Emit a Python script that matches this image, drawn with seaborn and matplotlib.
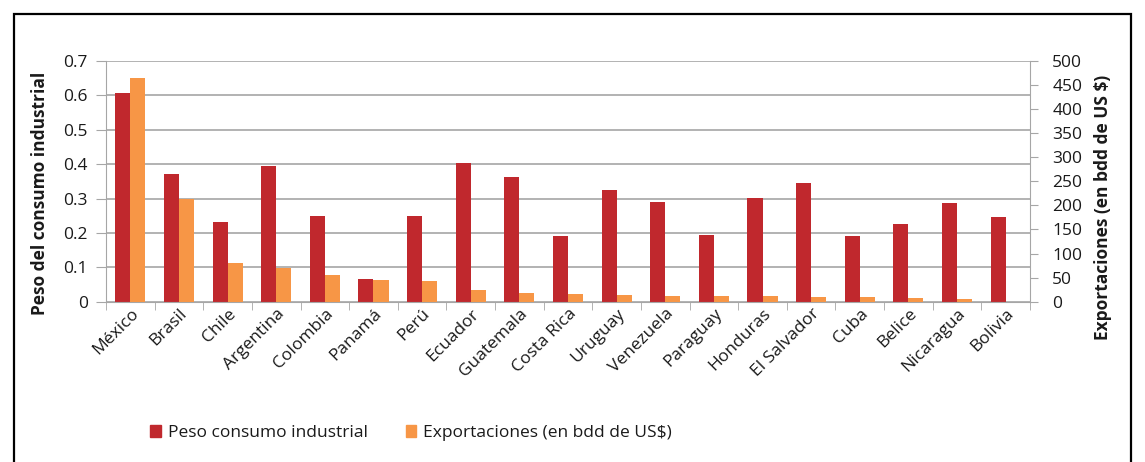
import numpy as np
import pandas as pd
import matplotlib
matplotlib.use("Agg")
import matplotlib.pyplot as plt
from matplotlib.patches import Rectangle
from matplotlib.ticker import MultipleLocator, FixedLocator
import seaborn as sns

countries = ["México", "Brasil", "Chile", "Argentina", "Colombia", "Panamá", "Perú",
             "Ecuador", "Guatemala", "Costa Rica", "Uruguay", "Venezuela", "Paraguay",
             "Honduras", "El Salvador", "Cuba", "Belice", "Nicaragua", "Bolivia"]
peso = [0.608, 0.372, 0.233, 0.396, 0.248, 0.065, 0.25, 0.402, 0.363, 0.192,
        0.324, 0.289, 0.195, 0.302, 0.345, 0.190, 0.227, 0.287, 0.245]
export = [465, 214, 80, 70, 55, 45, 43, 24, 19, 15, 14.5, 12.5, 12, 11, 9, 9, 8, 5, 0]

s1 = "Peso consumo industrial"
s2 = "Exportaciones (en bdd de US$)"
red = "#C0282D"
orange = "#F79646"

df = pd.DataFrame({
    "country": countries * 2,
    "series": [s1] * len(countries) + [s2] * len(countries),
    "left": peso + [np.nan] * len(countries),
    "right": [np.nan] * len(countries) + export,
})

sns.set_style("white")
plt.rcParams["font.family"] = ["Open Sans", "DejaVu Sans"]
FS = 12.5
TXT = "#1a1a1a"

fig = plt.figure(figsize=(11.45, 4.62), dpi=100)
ax = fig.add_axes([106 / 1145, 1 - 301.7 / 462, (1030 - 106) / 1145, (301.7 - 61) / 462])
ax2 = ax.twinx()

pal = {s1: red, s2: orange}
sns.barplot(data=df, x="country", y="left", hue="series", hue_order=[s1, s2],
            palette=pal, width=0.62, gap=0, dodge=True, ax=ax, legend=False,
            errorbar=None, saturation=1, order=countries, linewidth=0)
sns.barplot(data=df, x="country", y="right", hue="series", hue_order=[s1, s2],
            palette=pal, width=0.62, gap=0, dodge=True, ax=ax2, legend=False,
            errorbar=None, saturation=1, order=countries, linewidth=0)

ax.set_ylim(0, 0.7)
ax2.set_ylim(0, 500)
ax.set_xlim(-0.5, len(countries) - 0.5)
ax2.yaxis.set_major_locator(MultipleLocator(50))
ax.set_yticks(np.arange(0, 0.71, 0.1))
ax.set_yticklabels(["0"] + [f"{v:.1f}" for v in np.arange(0.1, 0.71, 0.1)])

grid_c = "#A6A6A6"
ax.set_axisbelow(True)
ax.grid(axis="y", color=grid_c, linewidth=1.2)
ax.grid(axis="x", visible=False)
ax2.grid(False)

for a in (ax, ax2):
    for sp in a.spines.values():
        sp.set_visible(False)
ax.spines["bottom"].set_visible(True)
ax.spines["bottom"].set_color(grid_c)
ax.spines["left"].set_visible(True)
ax.spines["left"].set_color(grid_c)
ax2.spines["right"].set_visible(True)
ax2.spines["right"].set_color(grid_c)

ax.tick_params(axis="y", which="major", left=True, length=7, color=grid_c,
               labelsize=FS, pad=6, labelcolor=TXT)
ax2.tick_params(axis="y", which="major", right=True, length=6, color=grid_c,
                labelsize=FS, pad=10, labelcolor=TXT)

ax.xaxis.set_minor_locator(FixedLocator(np.arange(-0.5, len(countries), 1.0)))
ax.tick_params(axis="x", which="minor", bottom=True, length=6, color=grid_c)
ax.tick_params(axis="x", which="major", bottom=False, length=0, pad=3,
               labelsize=FS, labelcolor=TXT)
plt.setp(ax.get_xticklabels(), rotation=45, ha="right", rotation_mode="anchor")
ax.set_xlabel("")

ax.set_ylabel("Peso del consumo industrial", fontsize=FS, fontweight="bold", color=TXT)
ax.yaxis.set_label_coords(-0.0622, 0.452)
ax2.set_ylabel("Exportaciones (en bdd de US $)", fontsize=FS, fontweight="bold",
               rotation=90, color=TXT)
ax2.yaxis.set_label_position("right")
ax2.yaxis.set_label_coords(1.0698, 0.391)

handles = [Rectangle((0, 0), 1, 1, color=red), Rectangle((0, 0), 1, 1, color=orange)]
fig.legend(handles, [s1, s2], loc="center", bbox_to_anchor=(411 / 1145, 1 - 433 / 462),
           ncol=2, frameon=False, fontsize=FS, handlelength=0.6, handleheight=0.7,
           handletextpad=0.4, columnspacing=2.2, labelcolor=TXT)

fig.patches.append(Rectangle((14 / 1145, -0.05), (1131 - 14) / 1145, 1.05 - 14 / 462,
                             transform=fig.transFigure, fill=False, edgecolor="black",
                             linewidth=1.6))

fig.savefig("out.png", dpi=100)
